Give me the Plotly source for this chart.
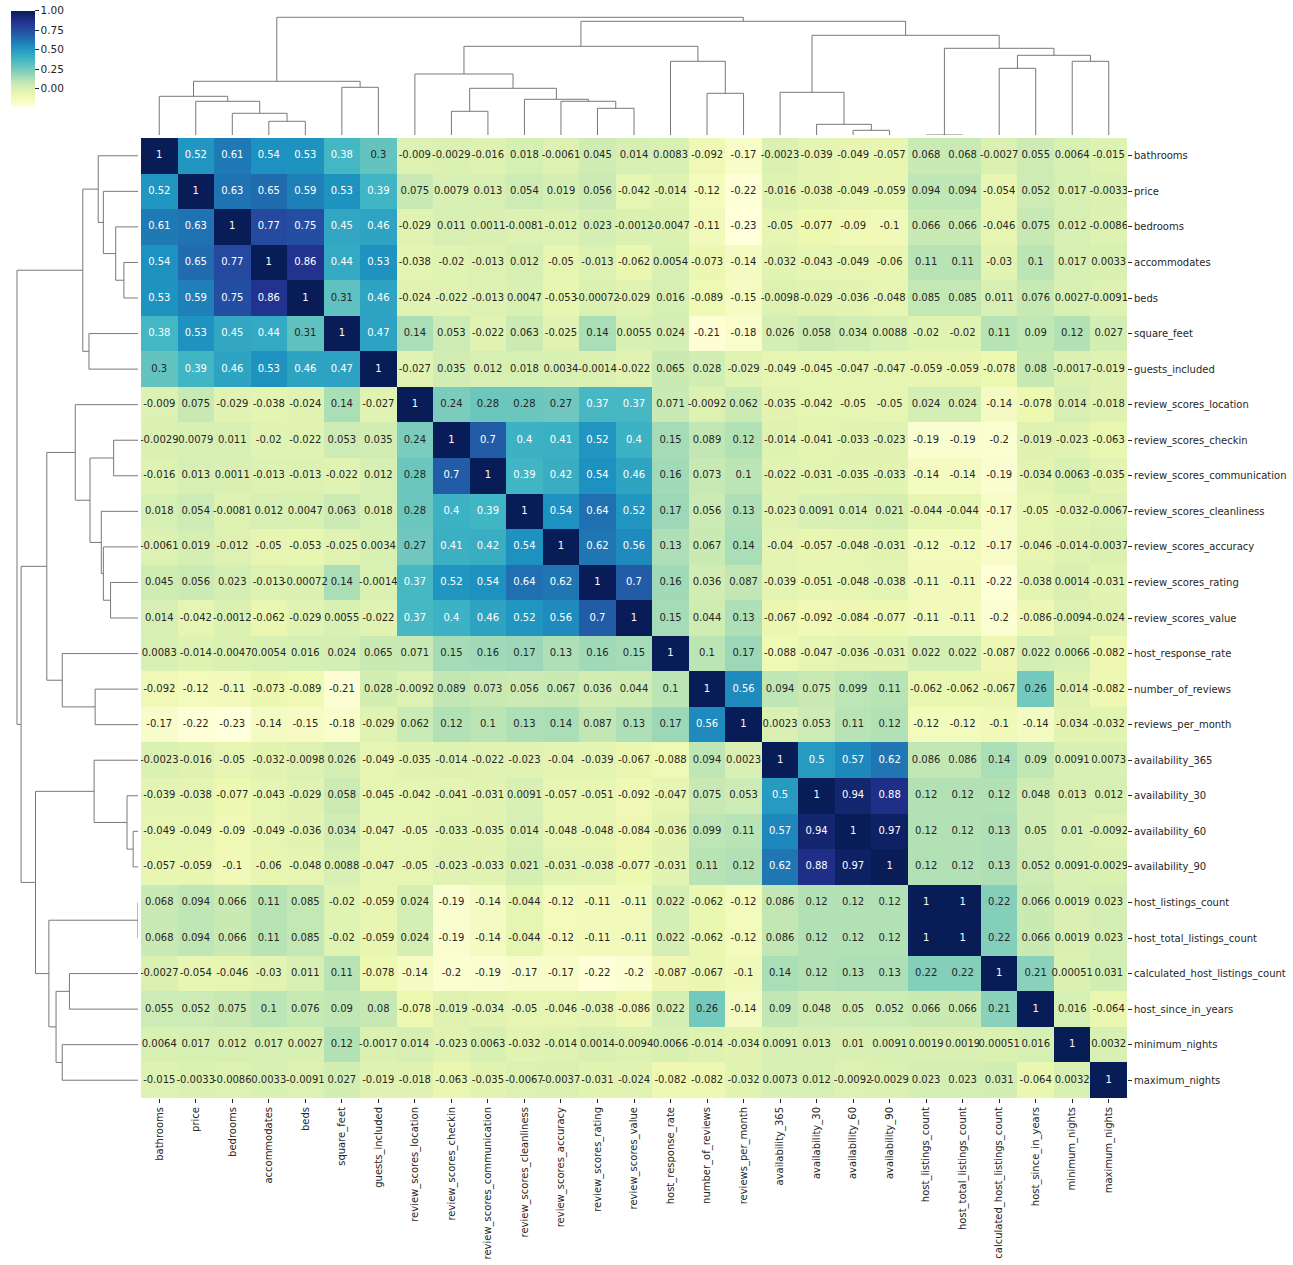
import plotly.graph_objects as go

labels = ["bathrooms", "price", "bedrooms", "accommodates", "beds", "square_feet", "guests_included",
          "review_scores_location", "review_scores_checkin", "review_scores_communication",
          "review_scores_cleanliness", "review_scores_accuracy", "review_scores_rating", "review_scores_value",
          "host_response_rate", "number_of_reviews", "reviews_per_month", "availability_365",
          "availability_30", "availability_60", "availability_90", "host_listings_count",
          "host_total_listings_count", "calculated_host_listings_count", "host_since_in_years",
          "minimum_nights", "maximum_nights"]

corr = [
    [1, 0.52, 0.61, 0.54, 0.53, 0.38, 0.3, -0.009, -0.0029, -0.016, 0.018, -0.0061, 0.045, 0.014, 0.0083, -0.092, -0.17, -0.0023, -0.039, -0.049, -0.057, 0.068, 0.068, -0.0027, 0.055, 0.0064, -0.015],
    [0.52, 1, 0.63, 0.65, 0.59, 0.53, 0.39, 0.075, 0.0079, 0.013, 0.054, 0.019, 0.056, -0.042, -0.014, -0.12, -0.22, -0.016, -0.038, -0.049, -0.059, 0.094, 0.094, -0.054, 0.052, 0.017, -0.0033],
    [0.61, 0.63, 1, 0.77, 0.75, 0.45, 0.46, -0.029, 0.011, 0.0011, -0.0081, -0.012, 0.023, -0.0012, -0.0047, -0.11, -0.23, -0.05, -0.077, -0.09, -0.1, 0.066, 0.066, -0.046, 0.075, 0.012, -0.0086],
    [0.54, 0.65, 0.77, 1, 0.86, 0.44, 0.53, -0.038, -0.02, -0.013, 0.012, -0.05, -0.013, -0.062, 0.0054, -0.073, -0.14, -0.032, -0.043, -0.049, -0.06, 0.11, 0.11, -0.03, 0.1, 0.017, 0.0033],
    [0.53, 0.59, 0.75, 0.86, 1, 0.31, 0.46, -0.024, -0.022, -0.013, 0.0047, -0.053, -0.00072, -0.029, 0.016, -0.089, -0.15, -0.0098, -0.029, -0.036, -0.048, 0.085, 0.085, 0.011, 0.076, 0.0027, -0.0091],
    [0.38, 0.53, 0.45, 0.44, 0.31, 1, 0.47, 0.14, 0.053, -0.022, 0.063, -0.025, 0.14, 0.0055, 0.024, -0.21, -0.18, 0.026, 0.058, 0.034, 0.0088, -0.02, -0.02, 0.11, 0.09, 0.12, 0.027],
    [0.3, 0.39, 0.46, 0.53, 0.46, 0.47, 1, -0.027, 0.035, 0.012, 0.018, 0.0034, -0.0014, -0.022, 0.065, 0.028, -0.029, -0.049, -0.045, -0.047, -0.047, -0.059, -0.059, -0.078, 0.08, -0.0017, -0.019],
    [-0.009, 0.075, -0.029, -0.038, -0.024, 0.14, -0.027, 1, 0.24, 0.28, 0.28, 0.27, 0.37, 0.37, 0.071, -0.0092, 0.062, -0.035, -0.042, -0.05, -0.05, 0.024, 0.024, -0.14, -0.078, 0.014, -0.018],
    [-0.0029, 0.0079, 0.011, -0.02, -0.022, 0.053, 0.035, 0.24, 1, 0.7, 0.4, 0.41, 0.52, 0.4, 0.15, 0.089, 0.12, -0.014, -0.041, -0.033, -0.023, -0.19, -0.19, -0.2, -0.019, -0.023, -0.063],
    [-0.016, 0.013, 0.0011, -0.013, -0.013, -0.022, 0.012, 0.28, 0.7, 1, 0.39, 0.42, 0.54, 0.46, 0.16, 0.073, 0.1, -0.022, -0.031, -0.035, -0.033, -0.14, -0.14, -0.19, -0.034, 0.0063, -0.035],
    [0.018, 0.054, -0.0081, 0.012, 0.0047, 0.063, 0.018, 0.28, 0.4, 0.39, 1, 0.54, 0.64, 0.52, 0.17, 0.056, 0.13, -0.023, 0.0091, 0.014, 0.021, -0.044, -0.044, -0.17, -0.05, -0.032, -0.0067],
    [-0.0061, 0.019, -0.012, -0.05, -0.053, -0.025, 0.0034, 0.27, 0.41, 0.42, 0.54, 1, 0.62, 0.56, 0.13, 0.067, 0.14, -0.04, -0.057, -0.048, -0.031, -0.12, -0.12, -0.17, -0.046, -0.014, -0.0037],
    [0.045, 0.056, 0.023, -0.013, -0.00072, 0.14, -0.0014, 0.37, 0.52, 0.54, 0.64, 0.62, 1, 0.7, 0.16, 0.036, 0.087, -0.039, -0.051, -0.048, -0.038, -0.11, -0.11, -0.22, -0.038, 0.0014, -0.031],
    [0.014, -0.042, -0.0012, -0.062, -0.029, 0.0055, -0.022, 0.37, 0.4, 0.46, 0.52, 0.56, 0.7, 1, 0.15, 0.044, 0.13, -0.067, -0.092, -0.084, -0.077, -0.11, -0.11, -0.2, -0.086, -0.0094, -0.024],
    [0.0083, -0.014, -0.0047, 0.0054, 0.016, 0.024, 0.065, 0.071, 0.15, 0.16, 0.17, 0.13, 0.16, 0.15, 1, 0.1, 0.17, -0.088, -0.047, -0.036, -0.031, 0.022, 0.022, -0.087, 0.022, 0.0066, -0.082],
    [-0.092, -0.12, -0.11, -0.073, -0.089, -0.21, 0.028, -0.0092, 0.089, 0.073, 0.056, 0.067, 0.036, 0.044, 0.1, 1, 0.56, 0.094, 0.075, 0.099, 0.11, -0.062, -0.062, -0.067, 0.26, -0.014, -0.082],
    [-0.17, -0.22, -0.23, -0.14, -0.15, -0.18, -0.029, 0.062, 0.12, 0.1, 0.13, 0.14, 0.087, 0.13, 0.17, 0.56, 1, 0.0023, 0.053, 0.11, 0.12, -0.12, -0.12, -0.1, -0.14, -0.034, -0.032],
    [-0.0023, -0.016, -0.05, -0.032, -0.0098, 0.026, -0.049, -0.035, -0.014, -0.022, -0.023, -0.04, -0.039, -0.067, -0.088, 0.094, 0.0023, 1, 0.5, 0.57, 0.62, 0.086, 0.086, 0.14, 0.09, 0.0091, 0.0073],
    [-0.039, -0.038, -0.077, -0.043, -0.029, 0.058, -0.045, -0.042, -0.041, -0.031, 0.0091, -0.057, -0.051, -0.092, -0.047, 0.075, 0.053, 0.5, 1, 0.94, 0.88, 0.12, 0.12, 0.12, 0.048, 0.013, 0.012],
    [-0.049, -0.049, -0.09, -0.049, -0.036, 0.034, -0.047, -0.05, -0.033, -0.035, 0.014, -0.048, -0.048, -0.084, -0.036, 0.099, 0.11, 0.57, 0.94, 1, 0.97, 0.12, 0.12, 0.13, 0.05, 0.01, -0.0092],
    [-0.057, -0.059, -0.1, -0.06, -0.048, 0.0088, -0.047, -0.05, -0.023, -0.033, 0.021, -0.031, -0.038, -0.077, -0.031, 0.11, 0.12, 0.62, 0.88, 0.97, 1, 0.12, 0.12, 0.13, 0.052, 0.0091, -0.0029],
    [0.068, 0.094, 0.066, 0.11, 0.085, -0.02, -0.059, 0.024, -0.19, -0.14, -0.044, -0.12, -0.11, -0.11, 0.022, -0.062, -0.12, 0.086, 0.12, 0.12, 0.12, 1, 1, 0.22, 0.066, 0.0019, 0.023],
    [0.068, 0.094, 0.066, 0.11, 0.085, -0.02, -0.059, 0.024, -0.19, -0.14, -0.044, -0.12, -0.11, -0.11, 0.022, -0.062, -0.12, 0.086, 0.12, 0.12, 0.12, 1, 1, 0.22, 0.066, 0.0019, 0.023],
    [-0.0027, -0.054, -0.046, -0.03, 0.011, 0.11, -0.078, -0.14, -0.2, -0.19, -0.17, -0.17, -0.22, -0.2, -0.087, -0.067, -0.1, 0.14, 0.12, 0.13, 0.13, 0.22, 0.22, 1, 0.21, 0.00051, 0.031],
    [0.055, 0.052, 0.075, 0.1, 0.076, 0.09, 0.08, -0.078, -0.019, -0.034, -0.05, -0.046, -0.038, -0.086, 0.022, 0.26, -0.14, 0.09, 0.048, 0.05, 0.052, 0.066, 0.066, 0.21, 1, 0.016, -0.064],
    [0.0064, 0.017, 0.012, 0.017, 0.0027, 0.12, -0.0017, 0.014, -0.023, 0.0063, -0.032, -0.014, 0.0014, -0.0094, 0.0066, -0.014, -0.034, 0.0091, 0.013, 0.01, 0.0091, 0.0019, 0.0019, 0.00051, 0.016, 1, 0.0032],
    [-0.015, -0.0033, -0.0086, 0.0033, -0.0091, 0.027, -0.019, -0.018, -0.063, -0.035, -0.0067, -0.0037, -0.031, -0.024, -0.082, -0.082, -0.032, 0.0073, 0.012, -0.0092, -0.0029, 0.023, 0.023, 0.031, -0.064, 0.0032, 1],
]

# hierarchical clustering linkage (scipy style: child a, child b, merge height); ids >= 27 are merged clusters
link_a = [21, 19, 18, 3, 2, 8, 12, 1, 11, 10, 0, 15, 17, 32, 5, 37, 7, 23, 14, 25, 44, 27, 43, 39, 49, 42]
link_b = [22, 20, 28, 4, 30, 9, 13, 31, 33, 35, 34, 16, 29, 36, 6, 41, 40, 24, 38, 26, 46, 47, 45, 48, 50, 51]
link_h = [0.0, 4.7, 10.7, 13.7, 21.7, 23.7, 26.7, 33.7, 33.7, 35.7, 38.7, 41.7, 42.7, 46.7, 47.7, 53.7,
          61.0, 66.7, 73.7, 73.7, 79.7, 86.7, 88.7, 99.7, 113.7, 117.7]

colorbar_ticks = [0.0, 0.25, 0.5, 0.75, 1.0]

YLGNBU = [(255, 255, 217), (237, 248, 177), (199, 233, 180), (127, 205, 187), (65, 182, 196),
          (29, 145, 192), (34, 94, 168), (37, 52, 148), (8, 29, 88)]

W, H = 1293, 1265
n = len(labels)
zmin = min(min(r) for r in corr)
zmax = max(max(r) for r in corr)


def cmap(t):
    t = min(max(t, 0.0), 1.0) * (len(YLGNBU) - 1)
    i = min(int(t), len(YLGNBU) - 2)
    f = t - i
    return tuple((YLGNBU[i][k] * (1 - f) + YLGNBU[i + 1][k] * f) / 255.0 for k in range(3))


def lum(rgb):
    lin = [c / 12.92 if c <= 0.03928 else ((c + 0.055) / 1.055) ** 2.4 for c in rgb]
    return 0.2126 * lin[0] + 0.7152 * lin[1] + 0.0722 * lin[2]


def dx(a, b):
    return [a / W, b / W]


def dy(top, bottom):
    return [1 - bottom / H, 1 - top / H]


colorscale = [[i / (len(YLGNBU) - 1), "rgb(%d,%d,%d)" % c] for i, c in enumerate(YLGNBU)]

fig = go.Figure()
fig.add_trace(go.Heatmap(
    z=corr, x=list(range(n)), y=list(range(n)), zmin=zmin, zmax=zmax, colorscale=colorscale,
    xgap=0, ygap=0, hoverinfo="skip",
    colorbar=dict(x=11 / W, xanchor="left", y=1 - 10.7 / H, yanchor="top", len=96, lenmode="pixels",
                  thickness=24, thicknessmode="pixels", xpad=0, ypad=0, outlinewidth=0,
                  tickvals=colorbar_ticks, ticktext=["%.2f" % v for v in colorbar_ticks],
                  ticks="outside", ticklen=4, tickcolor="#262626",
                  tickfont=dict(family="DejaVu Sans", size=10.5, color="#262626")),
))

# annotations
dark = dict(x=[], y=[], t=[])
light = dict(x=[], y=[], t=[])
for i in range(n):
    for j in range(n):
        v = corr[i][j]
        s = format(v, ".2g")
        c = cmap((v - zmin) / (zmax - zmin))
        d = dark if lum(c) > 0.408 else light
        d["x"].append(j)
        d["y"].append(i)
        d["t"].append(s)
for d, col in ((dark, "#262626"), (light, "#ffffff")):
    fig.add_trace(go.Scatter(x=d["x"], y=d["y"], text=d["t"], mode="text",
                             textfont=dict(family="DejaVu Sans", size=10, color=col),
                             hoverinfo="skip", showlegend=False))

# dendrogram segments
pos = {i: float(i) for i in range(n)}
hgt = {i: 0.0 for i in range(n)}
seg_p, seg_h = [], []
for k, (a, b, h) in enumerate(zip(link_a, link_b, link_h)):
    xa, xb = pos[a], pos[b]
    seg_p += [xa, xa, xb, xb, None]
    seg_h += [hgt[a], h, h, hgt[b], None]
    pos[n + k] = (xa + xb) / 2
    hgt[n + k] = h

line = dict(color="rgb(120,120,120)", width=1)
fig.add_trace(go.Scatter(x=seg_p, y=seg_h, mode="lines", line=line, xaxis="x2", yaxis="y2",
                         hoverinfo="skip", showlegend=False))
fig.add_trace(go.Scatter(x=seg_h, y=seg_p, mode="lines", line=line, xaxis="x3", yaxis="y3",
                         hoverinfo="skip", showlegend=False))

tickfont = dict(family="DejaVu Sans", size=10, color="#262626")
fig.update_layout(
    width=W, height=H, margin=dict(l=0, r=0, t=0, b=0, autoexpand=False),
    paper_bgcolor="white", plot_bgcolor="white", showlegend=False,
    font=dict(family="DejaVu Sans", size=10, color="#262626"),
    xaxis=dict(domain=dx(141, 1127), range=[-0.5, n - 0.5], tickvals=list(range(n)), ticktext=labels,
               tickangle=-90, ticks="outside", ticklen=4, tickcolor="#262626", showgrid=False,
               zeroline=False, showline=False, tickfont=tickfont, anchor="y", automargin=False),
    yaxis=dict(domain=dy(138, 1098), range=[n - 0.5, -0.5], tickvals=list(range(n)), ticktext=labels,
               side="right", ticks="outside", ticklen=4, tickcolor="#262626", showgrid=False,
               zeroline=False, showline=False, tickfont=tickfont, anchor="x", automargin=False),
    xaxis2=dict(domain=dx(141, 1127), range=[-0.5, n - 0.5], visible=False, anchor="y2"),
    yaxis2=dict(domain=dy(10, 135), range=[0, 125], visible=False, anchor="x2"),
    xaxis3=dict(domain=dx(10, 138), range=[124.5, 0], visible=False, anchor="y3"),
    yaxis3=dict(domain=dy(138, 1098), range=[n - 0.5, -0.5], visible=False, anchor="x3"),
)

fig.write_html("out.html", config={"displayModeBar": False},
               post_script="document.body.style.margin='0';document.body.style.padding='0';")
